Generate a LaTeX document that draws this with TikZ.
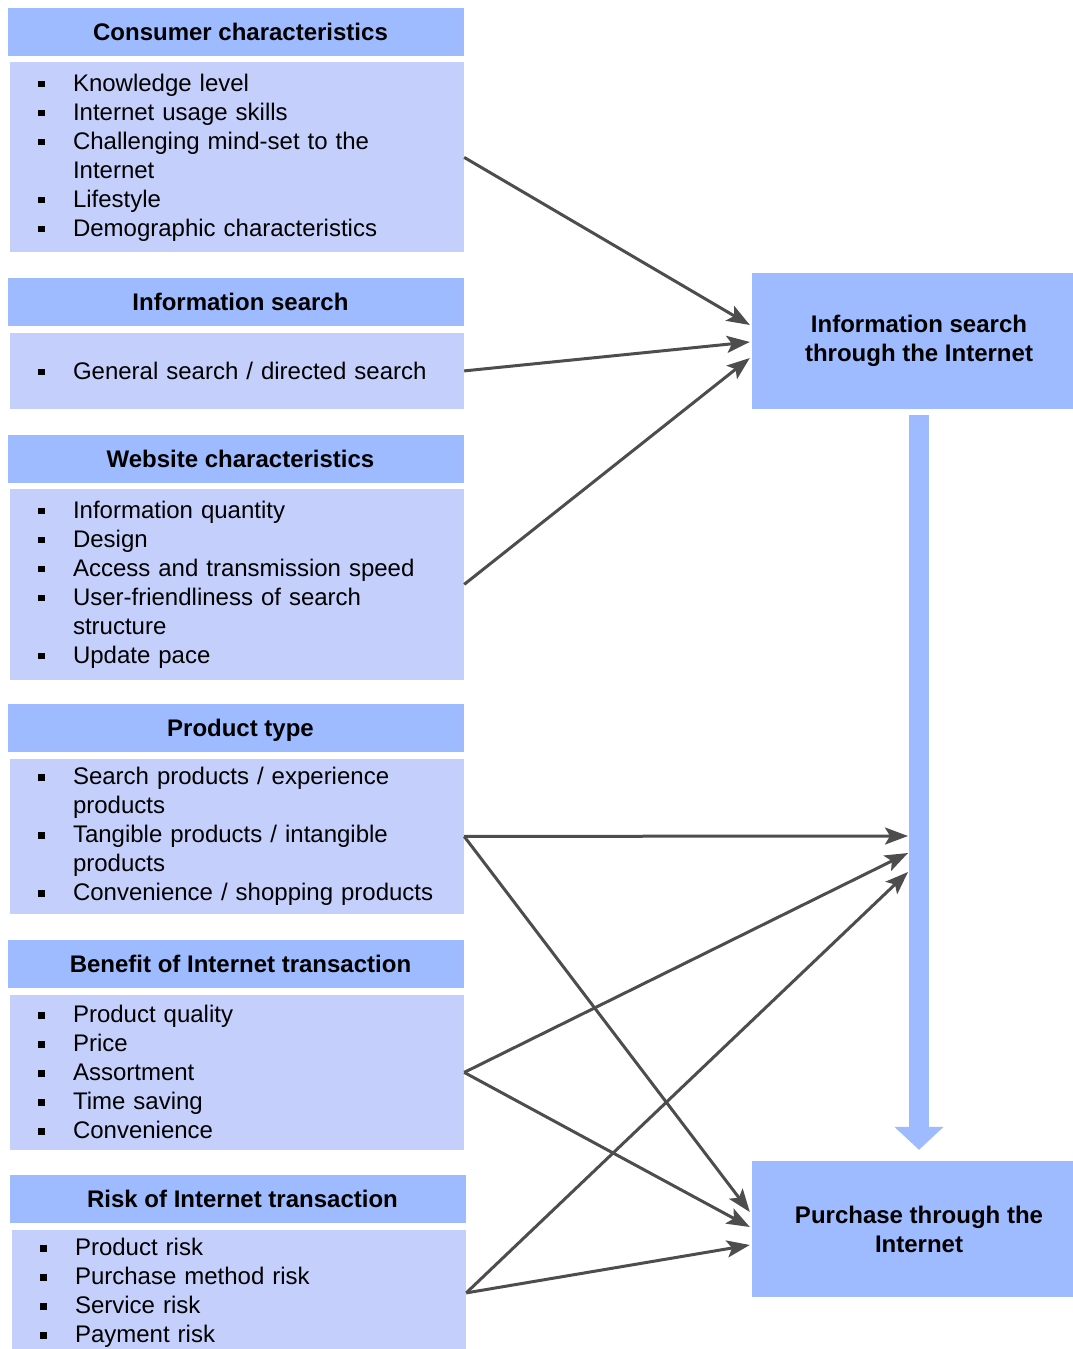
\documentclass[tikz,border=0pt]{standalone}
\usepackage{fontspec}
\setmainfont{Liberation Sans}
\usetikzlibrary{positioning,arrows.meta}
\definecolor{hdrblue}{RGB}{157,187,254}
\definecolor{bodyblue}{RGB}{196,207,252}
\definecolor{linkgray}{RGB}{77,77,77}
\newcommand{\sqbul}{\rule[4pt]{6.5pt}{6.5pt}}
\newcommand{\itm}[1]{\makebox[35pt][l]{\sqbul}\mbox{#1}}
\newcommand{\cnt}[1]{\hspace*{35pt}\mbox{#1}}
\tikzset{
	hdr/.style={fill=hdrblue, minimum width=456pt, minimum height=48pt, inner sep=0pt,
		font=\fontsize{24}{29}\selectfont\bfseries, text height=17pt, text depth=0pt,
		execute at begin node=\hspace*{9pt}},
	body/.style={fill=bodyblue, minimum width=454pt, inner xsep=28pt, inner ysep=0pt,
		text width=398pt, align=left, font=\fontsize{24}{29}\selectfont},
	target/.style={fill=hdrblue, minimum width=334pt, minimum height=136pt, inner sep=0pt,
		align=center, font=\fontsize{24}{29}\selectfont\bfseries},
	link/.style={draw=linkgray, line width=3pt, -{Stealth[length=23pt,width=17pt,inset=5pt]}},
	flow/.style={draw=hdrblue, line width=20pt, -{Triangle[length=23pt,width=48pt]},
		shorten <=6pt, shorten >=11pt}
}

\begin{document}
\begin{tikzpicture}[x=1pt, y=-1pt]
			%%%%% START %%%%%
			
			\useasboundingbox (0, 0) rectangle (1073, 1349);
			\clip (0, 0) rectangle (1073, 1349);
			
			\node[hdr] (hconsumer) at (236, 31.5) {Consumer characteristics};
			\node[body, minimum height=190pt, below=6.5pt of hconsumer.south east, anchor=north east] (consumer)
			{\itm{Knowledge level}\\ \itm{Internet usage skills}\\ \itm{Challenging mind-set to the}\\
				\cnt{Internet}\\ \itm{Lifestyle}\\ \itm{Demographic characteristics}};
			
			\node[hdr] (hinfosearch) at (236, 302) {Information search};
			\node[body, minimum height=76pt, below=6.5pt of hinfosearch.south east, anchor=north east] (infosearch)
			{\itm{General search / directed search}};
			
			\node[hdr] (hwebsite) at (236, 459) {Website characteristics};
			\node[body, minimum height=191pt, below=5.5pt of hwebsite.south east, anchor=north east] (website)
			{\itm{Information quantity}\\ \itm{Design}\\ \itm{Access and transmission speed}\\
				\itm{User-friendliness of search}\\ \cnt{structure}\\ \itm{Update pace}};
			
			\node[hdr] (hproduct) at (236, 728) {Product type};
			\node[body, minimum height=155pt, below=6.5pt of hproduct.south east, anchor=north east] (product)
			{\itm{Search products / experience}\\ \cnt{products}\\ \itm{Tangible products / intangible}\\
				\cnt{products}\\ \itm{Convenience / shopping products}};
			
			\node[hdr] (hbenefit) at (236, 964) {Benefit of Internet transaction};
			\node[body, minimum height=155pt, below=6.5pt of hbenefit.south east, anchor=north east] (benefit)
			{\itm{Product quality}\\ \itm{Price}\\ \itm{Assortment}\\ \itm{Time saving}\\ \itm{Convenience}};
			
			\node[hdr] (hrisk) at (238, 1199) {Risk of Internet transaction};
			\node[body, minimum height=126pt, below=6.5pt of hrisk.south east, anchor=north east] (risk)
			{\itm{Product risk}\\ \itm{Purchase method risk}\\ \itm{Service risk}\\ \itm{Payment risk}};
			
			\node[target] (searchnet) at (919, 341) {Information search\\through the Internet};
			\node[target] (purchasenet) at (919, 1229) {Purchase through the\\Internet};
			
			\draw[flow] (searchnet) -- (purchasenet);
			
			\coordinate (flowA) at (908, 836);
			\coordinate (flowB) at (908, 853);
			\coordinate (flowC) at (908, 872);
			
			\draw[link] (consumer.east) -- ([xshift=-2pt, yshift=16pt]searchnet.west);
			\draw[link] (infosearch.east) -- ([xshift=-2pt, yshift=-1pt]searchnet.west);
			\draw[link] (website.east) -- ([xshift=-2pt, yshift=-17pt]searchnet.west);
			
			\draw[link] (product.east) -- (flowA);
			\draw[link] (product.east) -- ([xshift=-2pt, yshift=17pt]purchasenet.west);
			\draw[link] (benefit.east) -- (flowB);
			\draw[link] (benefit.east) -- ([xshift=-2pt, yshift=2pt]purchasenet.west);
			\draw[link] (risk.east) -- (flowC);
			\draw[link] (risk.east) -- ([xshift=-2pt, yshift=-16pt]purchasenet.west);
			
			%%%%% END %%%%%
\end{tikzpicture}
\end{document}
